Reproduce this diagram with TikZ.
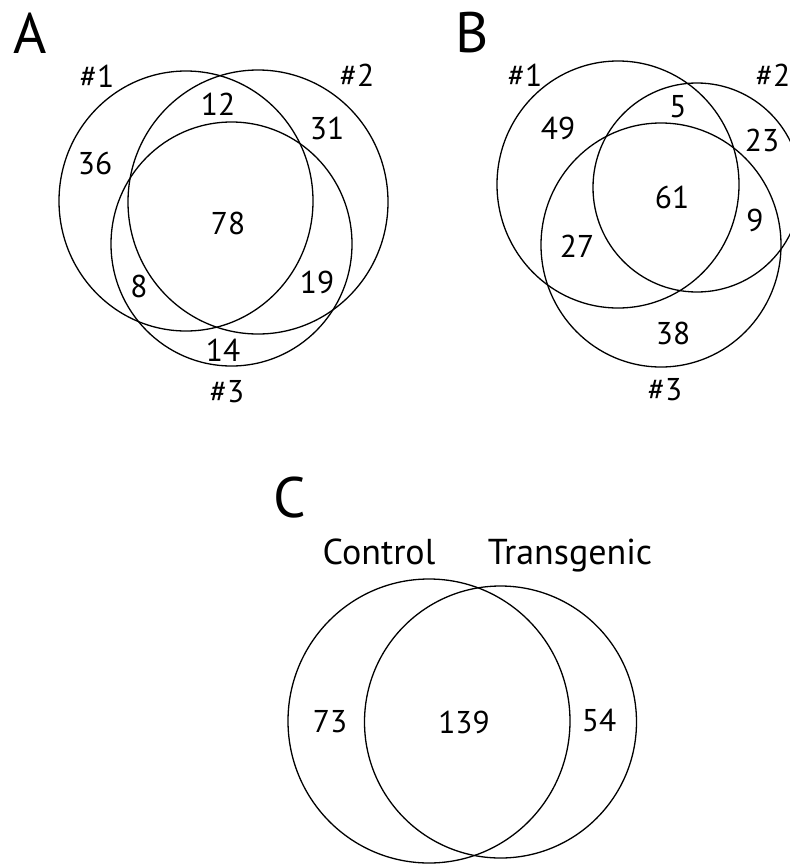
\documentclass[tikz,border=0pt]{standalone}
\usepackage{fontspec}
\setmainfont{PT Sans}
\begin{document}
\begin{tikzpicture}[x=1pt,y=-1pt,
  venn/.style={draw=black, line width=1.3pt},
  num/.style={font=\fontsize{31.5}{31.5}\selectfont, inner sep=0pt},
  grplab/.style={font=\fontsize{36}{36}\selectfont, inner sep=0pt, anchor=base},
  panel/.style={font=\fontsize{57}{57}\selectfont, inner sep=0pt}]
\useasboundingbox (0,0) rectangle (790,865);
% Panel A
\node[panel] (pA) at (30,33) {A};
\draw[venn] (186,201) ellipse [x radius=127pt, y radius=130pt];
\draw[venn] (258,202) ellipse [x radius=130pt, y radius=132pt];
\draw[venn] (231.5,244) ellipse [x radius=120.5pt, y radius=122pt];
\node[num] (a1) at (97,76) {\#1};
\node[num] (a2) at (357,75) {\#2};
\node[num] (a3) at (227,392) {\#3};
\node[num] (a12) at (218,104) {12};
\node[num] (a31) at (327,128) {31};
\node[num] (a36) at (95,163) {36};
\node[num] (a78) at (228,223) {78};
\node[num] (a8) at (139,286) {8};
\node[num] (a19) at (317,282) {19};
\node[num] (a14) at (223,350) {14};
% Panel B
\node[panel] (pB) at (472,33) {B};
\draw[venn] (618,184.5) ellipse [x radius=121pt, y radius=123.5pt];
\draw[venn] (697,187.5) ellipse [x radius=104pt, y radius=104.5pt];
\draw[venn] (661,245) ellipse [x radius=120pt, y radius=122pt];
\node[num] (b1) at (525,75) {\#1};
\node[num] (b2) at (773,75) {\#2};
\node[num] (b3) at (665,390) {\#3};
\node[num] (b5) at (678,107) {5};
\node[num] (b49) at (558,128) {49};
\node[num] (b23) at (762,140) {23};
\node[num] (b61) at (672,197) {61};
\node[num] (b9) at (755,220) {9};
\node[num] (b27) at (577,246) {27};
\node[num] (b38) at (673,333) {38};
% Panel C
\node[panel] (pC) at (290,498) {C};
\draw[venn] (429,721) ellipse [x radius=141pt, y radius=142pt];
\draw[venn] (500.5,722) ellipse [x radius=136pt, y radius=136pt];
\node[grplab] (ctl) at (379,564) {Control};
\node[grplab] (tg) at (570,564) {Transgenic};
\node[num] (c73) at (330,722) {73};
\node[num] (c139) at (464,722) {139};
\node[num] (c54) at (599,720) {54};
\end{tikzpicture}
\end{document}
